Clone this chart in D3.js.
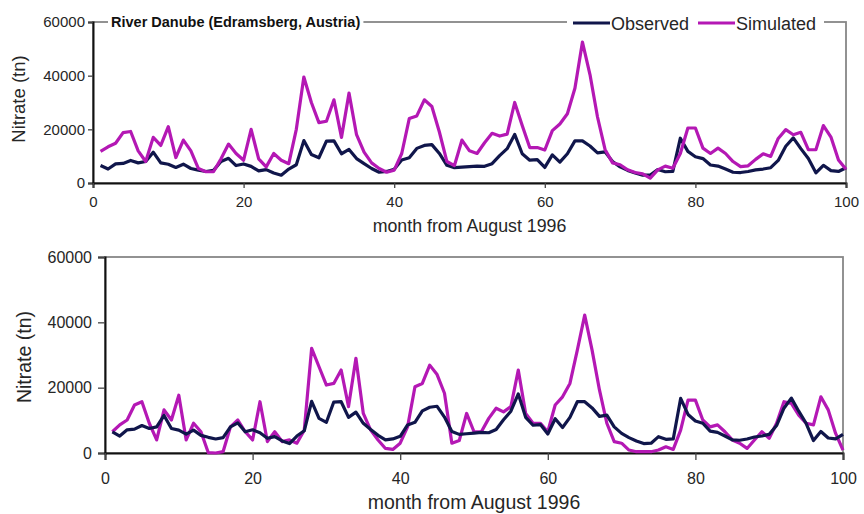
<!DOCTYPE html>
<html>
<head>
<meta charset="utf-8">
<script src="https://cdn.jsdelivr.net/npm/d3@7/dist/d3.min.js"></script>
<style>
  body { margin: 0; background: #fff; }
  text { font-family: "Liberation Sans", Arial, sans-serif; }
</style>
</head>
<body>
<svg id="chart" width="864" height="514"></svg>
<script>
// months since August 1996
const months = d3.range(1, 101);

const observed = [
  6500, 5200, 7100, 7300, 8400, 7500, 8000, 11500, 7500, 7000,
  5800, 7000, 5400, 4800, 4300, 4700, 8000, 9200, 6500, 7100,
  6200, 4500, 5000, 3700, 2900, 5200, 6800, 15800, 10600, 9400,
  15600, 15700, 10900, 12500, 9100, 7200, 5400, 4000, 4300, 5100,
  8600, 9400, 12900, 14000, 14300, 11000, 6600, 5700, 5900, 6100,
  6300, 6200, 7200, 10200, 12800, 18100, 10900, 8500, 8700, 5800,
  10500, 7800, 10900, 15700, 15700, 13800, 11200, 11600, 8000, 6000,
  4700, 3700, 2900, 3000, 5000, 4200, 4300, 16700, 11800, 9800,
  9100, 6700, 6300, 5200, 4000, 3900, 4300, 4900, 5200, 5700,
  8400, 13700, 16800, 12800, 9100, 3800, 6600, 4600, 4300, 5700
];

const simulatedTop = [
  11800, 13500, 14800, 18800, 19200, 12000, 8000, 17000, 14000, 21000,
  9500, 16000, 12000, 5400, 4200, 4200, 9000, 14500, 11000, 8500,
  20000, 9000, 6000, 11000, 8500, 7200, 20000, 39500, 30000, 22500,
  23000, 31000, 17000, 33500, 18000, 11500, 7500, 5400, 4000, 4800,
  11000, 24000, 25000, 31000, 28500, 19000, 8000, 6500, 16000, 12000,
  11000, 15000, 18500, 17500, 18200, 30000, 21400, 13200, 13200, 12300,
  19500, 22000, 25800, 35300, 52500, 40400, 24600, 12500, 7500, 6800,
  4900, 3900, 3400, 1800, 4900, 6300, 5500, 11000, 20500, 20500,
  13000, 11000, 13000, 11000, 8000, 6100, 6400, 8800, 10900, 9900,
  16600, 19900, 18000, 18900, 12400, 12400, 21400, 17100, 8600, 5100
];

const simulatedBottom = [
  6500, 8600, 10100, 14700, 15700, 9100, 4000, 13200, 10100, 17700,
  4000, 9100, 6500, 100, 0, 400, 8000, 10100, 6500, 4000,
  15700, 3500, 6500, 3500, 4000, 3000, 7000, 32000, 26400, 20800,
  21300, 25400, 14200, 29000, 12100, 7000, 4000, 1400, 1100, 3000,
  8000, 20300, 21300, 26900, 24000, 18300, 3000, 3800, 12100, 6500,
  6500, 10600, 13700, 12600, 14200, 25400, 12100, 9100, 9100, 6500,
  14700, 17200, 21300, 31500, 42200, 31500, 19300, 9100, 3500, 3000,
  900, 400, 400, 400, 900, 1900, 1100, 7000, 16200, 16200,
  10100, 8000, 8600, 6500, 4000, 3000, 1400, 4000, 6500, 4500,
  9100, 15700, 15200, 11600, 9100, 8600, 17200, 13200, 6000, 900
];

const yTicks = [0, 20000, 40000, 60000];
const xTicks = [0, 20, 40, 60, 80, 100];
const seriesNames = ['Observed', 'Simulated'];
const seriesColors = ['#10164b', '#b418b4'];
const chartTitle = 'River Danube (Edramsberg, Austria)';
const xTitle = 'month from August 1996';
const yTitle = 'Nitrate (tn)';

const svg = d3.select('#chart');

function drawPanel(p) {
  const g = svg.append('g');
  const x = d3.scaleLinear().domain([0, 100]).range([p.left, p.right]);
  const y = d3.scaleLinear().domain([0, 60000]).range([p.bottom, p.top]);

  // grey frame round the plot area
  g.append('rect')
    .attr('x', x(0)).attr('y', y(60000))
    .attr('width', x(100) - x(0)).attr('height', y(0) - y(60000))
    .attr('fill', 'none')
    .attr('stroke', '#878787')
    .attr('stroke-width', 1.8);

  const yAxis = g.append('g')
    .attr('transform', `translate(${p.left},0)`)
    .call(d3.axisLeft(y).tickValues(yTicks).tickSize(p.tick).tickPadding(p.yPad).tickFormat(d3.format('d')));
  const xAxis = g.append('g')
    .attr('transform', `translate(0,${p.bottom})`)
    .call(d3.axisBottom(x).tickValues(xTicks).tickSize(p.tick).tickPadding(p.xPad));

  [yAxis, xAxis].forEach(a => {
    a.select('.domain').attr('stroke', '#111').attr('stroke-width', 2);
    a.selectAll('.tick line').attr('stroke', '#444').attr('stroke-width', 1.3);
    a.selectAll('.tick text')
      .attr('font-size', p.tickFont)
      .attr('fill', '#262626')
      .style('font-family', '"Liberation Sans", Arial, sans-serif');
  });

  const line = d3.line().x((d, i) => x(months[i])).y(d => y(d));

  const order = p.simOnTop ? [0, 1] : [1, 0];
  const data = [observed, p.sim];
  order.forEach(k => {
    g.append('path')
      .datum(data[k])
      .attr('d', line)
      .attr('fill', 'none')
      .attr('stroke', seriesColors[k])
      .attr('stroke-width', 3.2)
      .attr('stroke-linejoin', 'round');
  });

  g.append('text')
    .attr('x', (p.left + p.right) / 2)
    .attr('y', p.xTitleY)
    .attr('text-anchor', 'middle')
    .attr('font-size', p.xTitleFont)
    .attr('fill', '#262626')
    .text(xTitle);

  g.append('text')
    .attr('transform', `translate(${p.yTitleX},${p.yTitleMid}) rotate(-90)`)
    .attr('text-anchor', 'middle')
    .attr('font-size', p.yTitleFont)
    .attr('fill', '#262626')
    .text(yTitle);

  return {g, x, y};
}

const topPanel = drawPanel({
  left: 93, right: 846, top: 22, bottom: 183,
  sim: simulatedTop, simOnTop: true, tick: 5, yPad: 3, xPad: 8,
  tickFont: 15, xTitleFont: 17.8, yTitleFont: 18.5,
  xTitleY: 232, yTitleX: 25, yTitleMid: 99
});

drawPanel({
  left: 105, right: 843, top: 257, bottom: 453,
  sim: simulatedBottom, simOnTop: false, tick: 7, yPad: 6, xPad: 13,
  tickFont: 16, xTitleFont: 19.5, yTitleFont: 19.5,
  xTitleY: 509, yTitleX: 31, yTitleMid: 357
});

// title sitting on the frame
const tt = topPanel.g.append('text')
  .attr('x', 111)
  .attr('y', 27)
  .attr('font-size', 14.5)
  .attr('font-weight', 'bold')
  .attr('fill', '#111')
  .text(chartTitle);
const tb = tt.node().getBBox();
topPanel.g.insert('rect', () => tt.node())
  .attr('x', tb.x - 3).attr('y', tb.y)
  .attr('width', tb.width + 6).attr('height', tb.height)
  .attr('fill', '#fff');

// legend on the frame
const legend = topPanel.g.append('g').attr('transform', 'translate(573,23)');
legend.append('rect')
  .attr('x', -6).attr('y', -11).attr('width', 257).attr('height', 22)
  .attr('fill', '#fff');
const item = legend.selectAll('g.item')
  .data(seriesNames)
  .join('g')
  .attr('class', 'item')
  .attr('transform', (d, i) => `translate(${i * 125},0)`);
item.append('line')
  .attr('x1', 0).attr('x2', 37)
  .attr('stroke', (d, i) => seriesColors[i])
  .attr('stroke-width', 3);
item.append('text')
  .attr('x', 38).attr('y', 6.5)
  .attr('font-size', 18)
  .attr('fill', '#262626')
  .text(d => d);
</script>
</body>
</html>
